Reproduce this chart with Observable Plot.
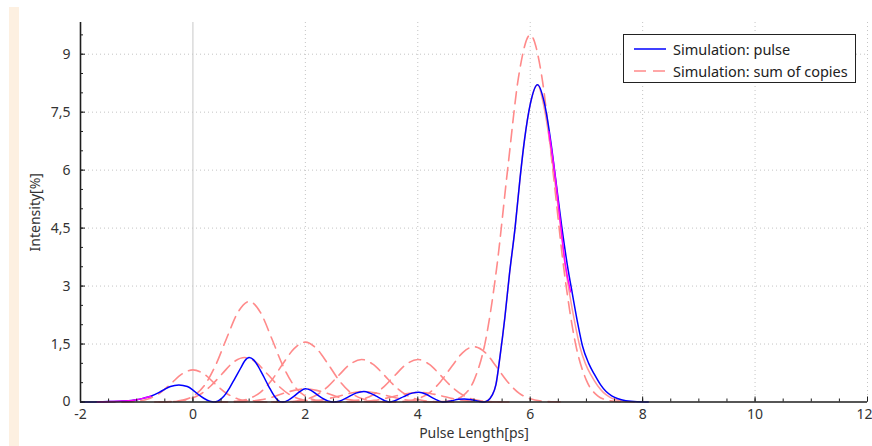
<!DOCTYPE html>
<html>
<head>
<meta charset="utf-8">
<script src="https://cdn.jsdelivr.net/npm/d3@7"></script>
<script src="https://cdn.jsdelivr.net/npm/@observablehq/plot@0.6"></script>
<style>
  html, body { margin: 0; padding: 0; background: #fff; }
  #wrap { position: relative; width: 872px; height: 446px; overflow: hidden; font-family: "Noto Sans", sans-serif; }
  #strip { position: absolute; left: 9px; top: 7px; width: 10px; height: 439px; background: #fdf0e1; }
  #chart { position: absolute; left: 0; top: 0; }
  #legend { position: absolute; left: 623px; top: 34px; width: 231px; height: 47px; border: 1px solid #222; background: #fff; font-size: 14.5px; color: #222; }
  #legend .row { position: absolute; left: 0; height: 20px; display: flex; align-items: center; white-space: nowrap; }
  #legend svg { margin-left: 10px; margin-right: 7px; }
</style>
</head>
<body>
<div id="wrap">
  <div id="strip"></div>
  <div id="chart"></div>
  <div id="legend">
    <div class="row" style="top:4px"><svg width="32" height="4"><line x1="0" y1="2" x2="32" y2="2" stroke="#0000ff" stroke-width="1.5"/></svg><span>Simulation: pulse</span></div>
    <div class="row" style="top:26px"><svg width="32" height="4"><line x1="0" y1="2" x2="32" y2="2" stroke="#ff8a8a" stroke-width="1.5" stroke-dasharray="12,7"/></svg><span>Simulation: sum of copies</span></div>
  </div>
</div>
<script>
// Axis ticks and labels
const xTicks = [-2, 0, 2, 4, 6, 8, 10, 12];
const yTicks = [0, 1.5, 3, 4.5, 6, 7.5, 9];
const yTickLabels = ["0", "1,5", "3", "4,5", "6", "7,5", "9"];
const xMinor = d3.range(-2, 12.01, 0.5);
const yMinor = d3.range(0, 9.81, 0.5);

// Simulated pulse (blue)
const pulseX = [-2.0, -1.75, -1.5, -1.25, -1.0, -0.875, -0.75, -0.6, -0.5, -0.4, -0.25, -0.1, 0.0, 0.1, 0.2, 0.3, 0.37,
  0.45, 0.55, 0.65, 0.75, 0.85, 0.92, 1.0, 1.08, 1.15, 1.25, 1.35, 1.45, 1.55, 1.6,
  1.7, 1.8, 1.9, 2.0, 2.1, 2.2, 2.3, 2.4, 2.5,
  2.6, 2.75, 2.9, 3.04, 3.15, 3.3, 3.42, 3.5,
  3.6, 3.75, 3.9, 4.02, 4.15, 4.3, 4.44,
  4.6, 4.72, 4.83, 4.95, 5.08, 5.18,
  5.25, 5.32, 5.39, 5.46, 5.55, 5.63, 5.73, 5.82, 5.9, 6.0, 6.13, 6.25, 6.37, 6.45, 6.56, 6.66, 6.75, 6.85, 6.93, 7.04, 7.14, 7.25, 7.35, 7.45, 7.55, 7.7, 7.9, 8.1];
const pulseY = [0, 0.003, 0.01, 0.025, 0.06, 0.1, 0.15, 0.25, 0.33, 0.40, 0.44, 0.40, 0.31, 0.19, 0.09, 0.02, 0,
  0.03, 0.15, 0.36, 0.62, 0.88, 1.06, 1.15, 1.09, 0.95, 0.68, 0.40, 0.15, 0.01, 0,
  0.05, 0.15, 0.27, 0.34, 0.30, 0.20, 0.10, 0.03, 0,
  0.02, 0.12, 0.23, 0.27, 0.23, 0.12, 0.03, 0,
  0.04, 0.14, 0.23, 0.25, 0.20, 0.08, 0,
  0.03, 0.07, 0.08, 0.06, 0.02, 0,
  0.04, 0.17, 0.45, 1.15, 2.2, 3.3, 4.5, 5.8, 6.8, 7.7, 8.21, 7.75, 6.7, 5.8, 4.55, 3.55, 2.8, 2.0, 1.45, 1.0, 0.72, 0.45, 0.27, 0.16, 0.09, 0.03, 0.005, 0];

// Main copy of the pulse (solid light red)
const mainCopyX = [5.18, 5.25, 5.32, 5.39, 5.46, 5.55, 5.63, 5.73, 5.82, 5.9, 6.0, 6.13, 6.25, 6.35, 6.43, 6.54, 6.62, 6.7, 6.8, 6.88, 6.98, 7.08, 7.2, 7.3, 7.4, 7.5, 7.65, 7.85];
const mainCopyY = [0, 0.04, 0.17, 0.45, 1.15, 2.2, 3.3, 4.5, 5.8, 6.8, 7.7, 8.21, 7.6, 6.7, 5.8, 4.55, 3.55, 2.8, 2.0, 1.45, 1.0, 0.7, 0.42, 0.25, 0.14, 0.07, 0.02, 0];

// Overlap trace (magenta)
const overlapX = [-1.7, -1.5, -1.25, -1.0, -0.875, -0.75, null, 6.33, 6.43, 6.54, 6.62, 6.72];
const overlapY = [0.002, 0.01, 0.025, 0.06, 0.1, 0.15, null, 7.0, 6.0, 4.6, 3.6, 2.85];

// Shifted copies (dashed light red), sampled every 0.2 ps around each centre
const copyOffsets = [-1.6, -1.4, -1.2, -1.0, -0.8, -0.6, -0.4, -0.2, 0, 0.2, 0.4, 0.6, 0.8, 1.0, 1.2, 1.4, 1.6];
const copyCentres = [0, 1, 2, 3, 4, 5, 6, 0.92, 2.0, 3.04, 4.02];
const copyValues = [
  [0, 0.001, 0.004, 0.022, 0.08, 0.22, 0.46, 0.72, 0.83, 0.72, 0.46, 0.22, 0.08, 0.022, 0.004, 0.001, 0],
  [0.003, 0.01, 0.044, 0.15, 0.42, 0.94, 1.65, 2.32, 2.6, 2.32, 1.65, 0.94, 0.42, 0.15, 0.044, 0.01, 0.003],
  [0.002, 0.006, 0.026, 0.09, 0.25, 0.56, 0.99, 1.38, 1.55, 1.38, 0.99, 0.56, 0.25, 0.09, 0.026, 0.006, 0.002],
  [0.001, 0.004, 0.019, 0.065, 0.18, 0.40, 0.70, 0.98, 1.1, 0.98, 0.70, 0.40, 0.18, 0.065, 0.019, 0.004, 0.001],
  [0.001, 0.004, 0.019, 0.065, 0.18, 0.40, 0.70, 0.98, 1.1, 0.98, 0.70, 0.40, 0.18, 0.065, 0.019, 0.004, 0.001],
  [0.001, 0.006, 0.024, 0.084, 0.23, 0.52, 0.91, 1.28, 1.43, 1.28, 0.91, 0.52, 0.23, 0.084, 0.024, 0.006, 0.001],
  [0.01, 0.04, 0.16, 0.56, 1.55, 3.43, 6.04, 8.48, 9.5, 8.48, 6.04, 3.43, 1.55, 0.56, 0.16, 0.04, 0.01],
  [0.001, 0.005, 0.02, 0.068, 0.19, 0.42, 0.73, 1.03, 1.15, 1.03, 0.73, 0.42, 0.19, 0.068, 0.02, 0.005, 0.001],
  [0, 0.001, 0.006, 0.02, 0.055, 0.12, 0.22, 0.30, 0.34, 0.30, 0.22, 0.12, 0.055, 0.02, 0.006, 0.001, 0],
  [0, 0.001, 0.005, 0.016, 0.044, 0.097, 0.17, 0.24, 0.27, 0.24, 0.17, 0.097, 0.044, 0.016, 0.005, 0.001, 0],
  [0, 0.001, 0.004, 0.015, 0.041, 0.09, 0.16, 0.22, 0.25, 0.22, 0.16, 0.09, 0.041, 0.015, 0.004, 0.001, 0]
];

const zip = (xs, ys) => xs.map((x, i) => ({x, y: ys[i]}));
const pulse = zip(pulseX, pulseY);
const mainCopy = zip(mainCopyX, mainCopyY);
const overlap = zip(overlapX, overlapY);
const copies = copyCentres.flatMap((c, k) =>
  copyOffsets.map((o, i) => ({copy: k, x: c + o, y: copyValues[k][i]}))
);

const fmtX = d => (d < 0 ? "-" + Math.abs(d) : String(d));
const fmtY = d => yTickLabels[yTicks.indexOf(d)] ?? "";
const axisColor = "#1e1e1e";
const gridStyle = {stroke: "#c4c4c4", strokeOpacity: 1, strokeDasharray: "1,3"};
const lastX = xTicks[xTicks.length - 1];

const chart = Plot.plot({
  width: 872,
  height: 446,
  marginLeft: 80,
  marginRight: 5,
  marginTop: 22,
  marginBottom: 44.5,
  style: {fontFamily: "Noto Sans, sans-serif", fontSize: "14px", color: "#333", background: "transparent", overflow: "visible"},
  x: {domain: [-2, 12]},
  y: {domain: [0, 9.82]},
  marks: [
    Plot.gridY(yTicks.filter(d => d > 0), gridStyle),
    Plot.gridX([2, 4, 6, 8, 10, 12], gridStyle),
    Plot.ruleX([0], {stroke: "#c8c8c8", strokeWidth: 1}),
    Plot.line(copies, {x: "x", y: "y", z: "copy", stroke: "#ff8a8a", strokeWidth: 1.6, strokeDasharray: "12,7", curve: "monotone-x"}),
    Plot.line(mainCopy, {x: "x", y: "y", stroke: "#ff9a9a", strokeWidth: 1.5, curve: "monotone-x"}),
    Plot.line(pulse, {x: "x", y: "y", stroke: "#0000ff", strokeWidth: 1.5, curve: "monotone-x"}),
    Plot.line(overlap, {x: "x", y: "y", stroke: "#ff00ff", strokeWidth: 1.5, curve: "monotone-x"}),
    // inward ticks
    Plot.axisX({ticks: xMinor, tickSize: -3, tickFormat: () => "", label: null, stroke: axisColor}),
    Plot.axisX({ticks: xTicks, tickSize: -5, tickFormat: () => "", label: null, stroke: axisColor}),
    Plot.axisY({ticks: yMinor, tickSize: -3, tickFormat: () => "", label: null, stroke: axisColor}),
    Plot.axisY({ticks: yTicks, tickSize: -5, tickFormat: () => "", label: null, stroke: axisColor}),
    // tick labels and titles
    Plot.axisX({ticks: xTicks.filter(d => d !== lastX), tickSize: 0, tickPadding: 7, tickFormat: fmtX, label: "Pulse Length[ps]", labelAnchor: "center", labelOffset: 36, labelArrow: "none", fill: "#333"}),
    Plot.axisX({ticks: [lastX], tickSize: 0, tickPadding: 7, tickFormat: fmtX, label: null, dx: -3, fill: "#333"}),
    Plot.axisY({ticks: yTicks, tickSize: 0, tickPadding: 10, tickFormat: fmtY, label: "Intensity[%]", labelAnchor: "center", labelOffset: 50, labelArrow: "none", fill: "#333"}),
    // axis lines
    Plot.ruleY([0], {stroke: axisColor, strokeWidth: 1.6}),
    Plot.ruleX([-2], {stroke: axisColor, strokeWidth: 1.6})
  ]
});
document.getElementById("chart").appendChild(chart);
</script>
</body>
</html>
